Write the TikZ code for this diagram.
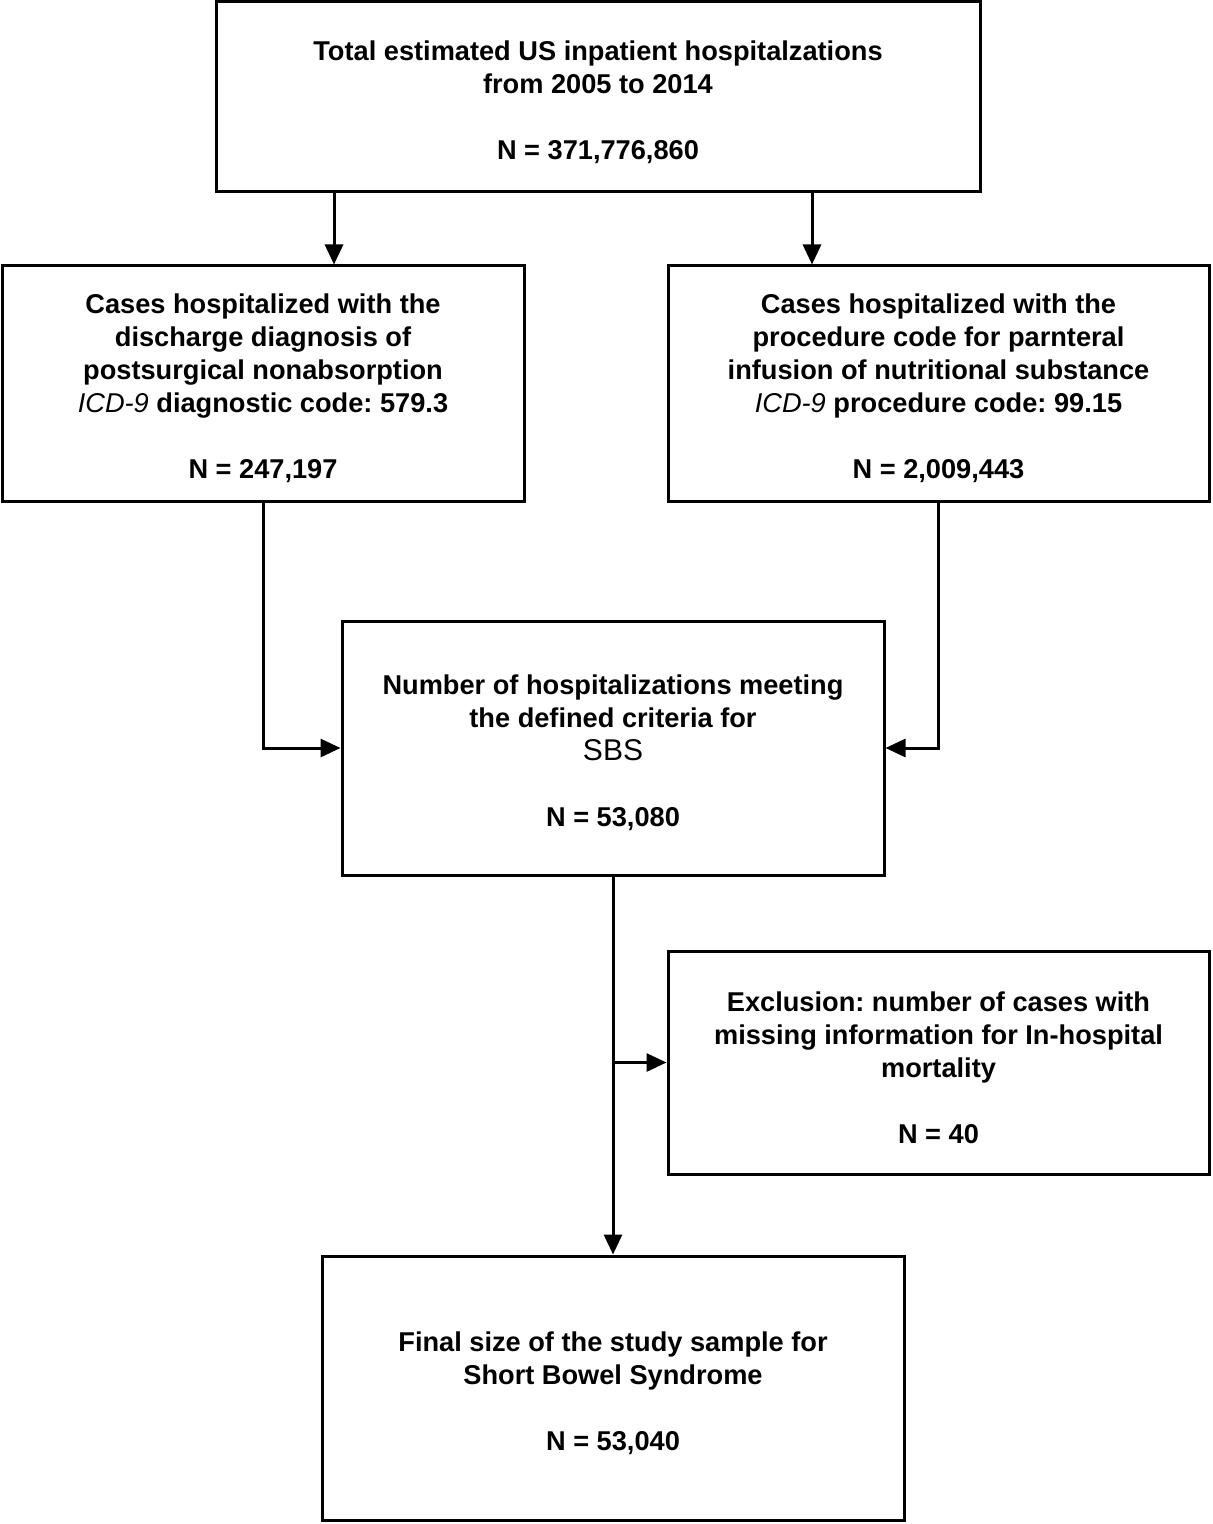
\documentclass[tikz,border=0pt]{standalone}
\usepackage{fontspec}
\setmainfont{Liberation Sans}
\usetikzlibrary{arrows.meta}
\begin{document}
\frenchspacing
\begin{tikzpicture}[x=0.5pt,y=-0.5pt,
  box/.style={draw=black,line width=1.5pt,rectangle,inner sep=0pt},
  txt/.style={align=center,inner sep=0pt,yshift=-2.5pt,
    font=\fontsize{13.6}{16.5}\selectfont\bfseries},
  arr/.style={line width=1.5pt,-{Triangle[length=10pt,width=9pt]}}]
\useasboundingbox (0,0) rectangle (1212,1524);
\newcommand{\gap}{\\[16.5pt]}
\node[box,minimum width=382pt,minimum height=95pt] (top) at (598,97) {};
\node[txt] (topT) at (top.center)
  {Total estimated US inpatient hospitalzations\\from 2005 to 2014\gap N = 371,776,860};
\node[box,minimum width=261pt,minimum height=117.5pt] (left) at (263,383.5) {};
\node[txt] (leftT) at (left.center)
  {Cases hospitalized with the\\discharge diagnosis of\\postsurgical nonabsorption\\{\mdseries\itshape ICD-9} diagnostic code: 579.3\gap N = 247,197};
\node[box,minimum width=270.5pt,minimum height=117.5pt] (right) at (938.5,383.5) {};
\node[txt] (rightT) at (right.center)
  {Cases hospitalized with the\\procedure code for parnteral\\infusion of nutritional substance\\{\mdseries\itshape ICD-9} procedure code: 99.15\gap N = 2,009,443};
\node[box,minimum width=271pt,minimum height=127pt] (mid) at (613,748) {};
\node[txt] (midT) at (mid.center)
  {Number of hospitalizations meeting\\the defined criteria for\\{\mdseries\fontsize{15}{16.5}\selectfont SBS}\gap N = 53,080};
\node[box,minimum width=270.5pt,minimum height=111.5pt] (excl) at (938.5,1062.5) {};
\node[txt] (exclT) at (excl.center)
  {Exclusion: number of cases with\\missing information for In-hospital\\mortality\gap N = 40};
\node[box,minimum width=291pt,minimum height=132pt] (final) at (613,1388) {};
\node[txt] (finalT) at (final.center)
  {Final size of the study sample for\\Short Bowel Syndrome\gap N = 53,040};
\coordinate (xa) at (334,0);
\coordinate (xb) at (812,0);
\draw[arr] (top.south -| xa) -- (left.north -| xa);
\draw[arr] (top.south -| xb) -- (right.north -| xb);
\draw[arr] (left.south) |- (mid.west);
\draw[arr] (right.south) |- (mid.east);
\draw[arr] (mid.south) -- (final.north);
\draw[arr] (mid.south |- excl.west) -- (excl.west);
\end{tikzpicture}
\end{document}
